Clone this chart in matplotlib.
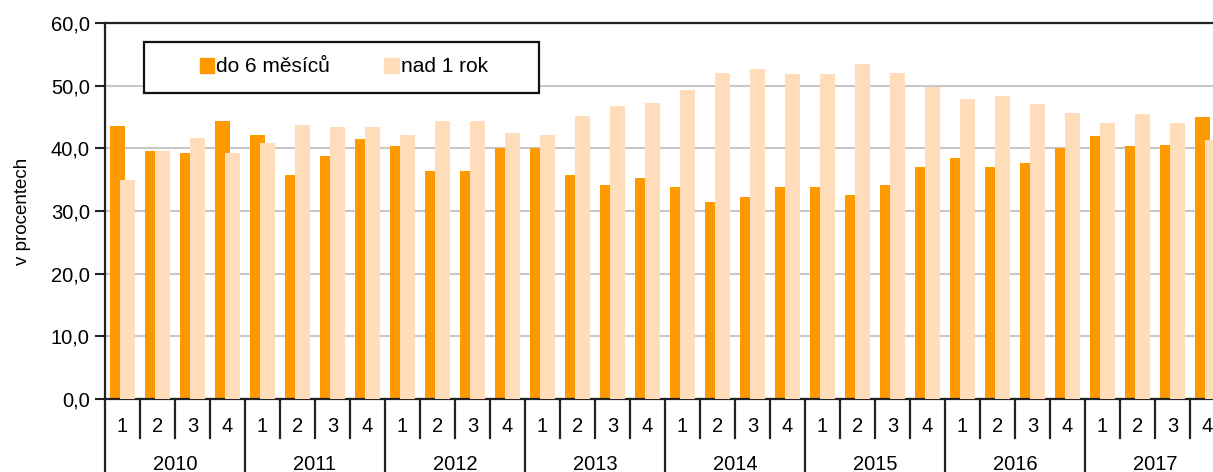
import numpy as np
import matplotlib.pyplot as plt
from matplotlib.patches import Patch, Rectangle
from matplotlib.ticker import FuncFormatter

plt.rcParams['font.family'] = ['Liberation Sans', 'DejaVu Sans']

#%% data
roky = ['2010', '2011', '2012', '2013', '2014', '2015', '2016', '2017']
kvartaly = ['1', '2', '3', '4']
do_6_mesicu = [43.6, 39.6, 39.3, 44.4, 42.1, 35.8, 38.7, 41.5,
               40.3, 36.4, 36.4, 40.1, 40.0, 35.8, 34.2, 35.2,
               33.9, 31.4, 32.3, 33.9, 33.9, 32.6, 34.2, 37.1,
               38.4, 37.1, 37.7, 40.0, 41.9, 40.3, 40.6, 45.0]
nad_1_rok = [35.0, 39.6, 41.6, 39.3, 40.8, 43.7, 43.4, 43.4,
             42.2, 44.4, 44.4, 42.5, 42.2, 45.1, 46.7, 47.3,
             49.3, 52.1, 52.7, 51.8, 51.8, 53.4, 52.1, 49.8,
             47.9, 48.3, 47.0, 45.7, 44.1, 45.4, 44.1, 41.3]

oranzova = '#FF9900'
svetla = '#FFDDBB'

#%% plot
fig = plt.figure(figsize=(12.13, 4.72), dpi=100)
# plot area runs past the right edge like in the original screenshot
ax = fig.add_axes([105/1213, 73/472, 1120/1213, 376/472])

n = len(do_6_mesicu)
idx = np.arange(n)
ax.bar(idx + 5/35, do_6_mesicu, width=15/35, align='edge', color=oranzova, zorder=2)
ax.bar(idx + 15/35, nad_1_rok, width=15/35, align='edge', color=svetla, zorder=3)

ax.set_xlim(0, n)
ax.set_ylim(0, 60)
ax.set_yticks(np.arange(0, 61, 10))
ax.yaxis.set_major_formatter(FuncFormatter(lambda v, p: ('%.1f' % v).replace('.', ',')))
ax.tick_params(axis='y', length=7, width=1.5, color='#222222', labelsize=14.5, pad=4)
ax.yaxis.grid(True, color='#c8c8c8', linewidth=1.5, zorder=0)
ax.set_axisbelow(True)

for s in ['left', 'top', 'bottom']:
    ax.spines[s].set_linewidth(1.6)
    ax.spines[s].set_color('#222222')
ax.spines['right'].set_visible(False)

ax.set_xticks([])
ax.set_ylabel('v procentech', fontsize=13.5, labelpad=14)

# dvouurovnova osa x
tr = ax.get_xaxis_transform()
for i in range(n + 1):
    if i % 4 == 0:
        ax.plot([i, i], [0, -0.25], transform=tr, color='#222222', lw=1.6, clip_on=False)
    else:
        ax.plot([i, i], [0, -0.105], transform=tr, color='#222222', lw=1.6, clip_on=False)
for i in range(n):
    ax.text(i + 0.5, -0.072, kvartaly[i % 4], transform=tr, ha='center', va='center', fontsize=14.5)
for j, r in enumerate(roky):
    ax.text(j * 4 + 2, -0.175, r, transform=tr, ha='center', va='center', fontsize=14.5)

# legenda
fig.patches.append(Rectangle((144/1213, 1 - 93/472), 395/1213, 51/472, transform=fig.transFigure,
                             facecolor='white', edgecolor='#111111', linewidth=1.6, zorder=5))
handles = [Patch(color=oranzova, label='do 6 měsíců'), Patch(color=svetla, label='nad 1 rok')]
leg = fig.legend(handles=handles, loc='center', bbox_to_anchor=(344/1213, 1 - 67/472), ncol=2,
                 frameon=False, fontsize=15, handlelength=0.7, handleheight=0.75,
                 handletextpad=0.1, columnspacing=2.6)
leg.set_zorder(6)

fig.savefig('out.png', dpi=100)
